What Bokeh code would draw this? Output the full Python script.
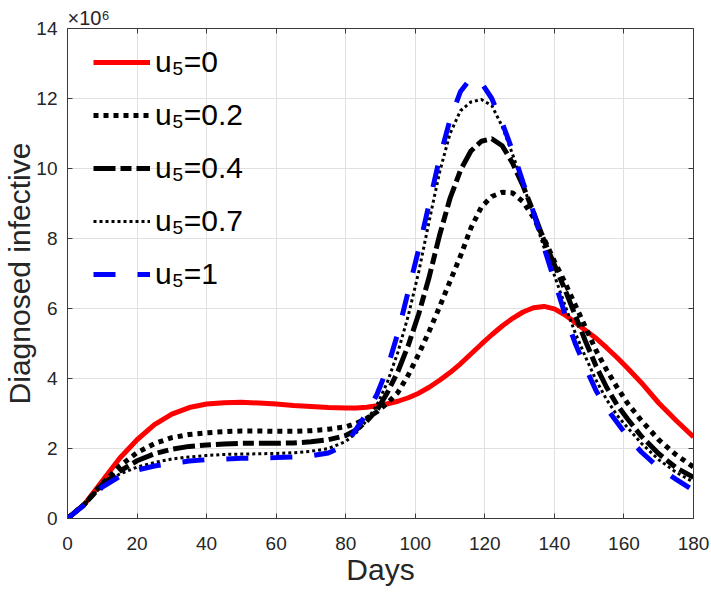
from bokeh.plotting import figure
from bokeh.models import (Range1d, FixedTicker, LinearAxis, Legend, LegendItem,
                          CustomJSTickFormatter)
from bokeh.embed import file_html
from bokeh.resources import INLINE

# ---------------- data (Diagnosed infective, in units of 10^6) ----------------
days = [0, 5, 10, 15, 20, 25, 30, 35, 40, 45, 50, 55, 60, 65, 70, 75, 80, 83, 86, 89,
        92, 95, 98, 101, 104, 107, 110, 113, 116, 119, 122, 125, 128, 131, 134, 137,
        140, 143, 146, 149, 152, 155, 158, 161, 165, 170, 175, 180]

u5_0 = [0, 0.42, 1.07, 1.72, 2.25, 2.68, 2.98, 3.17, 3.27, 3.31, 3.32, 3.30, 3.27, 3.23,
        3.20, 3.17, 3.16, 3.16, 3.18, 3.22, 3.28, 3.35, 3.45, 3.58, 3.75, 3.95, 4.17,
        4.42, 4.70, 4.98, 5.25, 5.50, 5.72, 5.90, 6.02, 6.06, 5.99, 5.82, 5.60, 5.37,
        5.15, 4.88, 4.60, 4.30, 3.88, 3.30, 2.80, 2.33]

u5_02 = [0, 0.42, 1.00, 1.50, 1.88, 2.14, 2.31, 2.40, 2.45, 2.48, 2.50, 2.50, 2.49, 2.49,
         2.51, 2.55, 2.62, 2.72, 2.86, 3.05, 3.30, 3.60, 4.10, 4.70, 5.35, 6.05, 6.78,
         7.50, 8.30, 8.90, 9.20, 9.32, 9.30, 9.05, 8.60, 8.00, 7.35, 6.75, 6.10, 5.45,
         4.80, 4.25, 3.75, 3.30, 2.80, 2.25, 1.82, 1.47]

u5_04 = [0, 0.42, 0.97, 1.35, 1.65, 1.85, 1.98, 2.06, 2.10, 2.13, 2.15, 2.15, 2.15, 2.16,
         2.19, 2.25, 2.37, 2.53, 2.78, 3.10, 3.60, 4.20, 4.95, 5.85, 6.90, 8.10, 9.15,
         9.95, 10.50, 10.78, 10.85, 10.65, 10.15, 9.50, 8.75, 7.95, 7.25, 6.55, 5.80,
         5.05, 4.35, 3.75, 3.25, 2.85, 2.35, 1.85, 1.45, 1.18]

u5_07 = [0, 0.42, 0.95, 1.27, 1.47, 1.60, 1.70, 1.76, 1.80, 1.83, 1.84, 1.85, 1.86, 1.88,
         1.92, 2.00, 2.20, 2.45, 2.80, 3.25, 3.90, 4.75, 5.80, 7.05, 8.50, 9.90, 11.00,
         11.65, 11.90, 11.97, 11.80, 11.20, 10.40, 9.55, 8.65, 7.75, 6.95, 6.10, 5.30,
         4.60, 3.95, 3.40, 2.95, 2.60, 2.15, 1.68, 1.32, 1.04]

u5_1 = [0, 0.40, 0.90, 1.20, 1.38, 1.50, 1.58, 1.64, 1.68, 1.70, 1.72, 1.73, 1.74, 1.76,
        1.79, 1.87, 2.10, 2.55, 3.00, 3.55, 4.30, 5.30, 6.50, 7.70, 9.00, 10.30, 11.40,
        12.20, 12.58, 12.45, 12.00, 11.30, 10.50, 9.60, 8.75, 7.75, 6.80, 5.85, 5.00,
        4.30, 3.65, 3.15, 2.75, 2.35, 1.90, 1.45, 1.12, 0.80]

series_labels = ["u\u2085=0", "u\u2085=0.2", "u\u2085=0.4", "u\u2085=0.7", "u\u2085=1"]
x_ticks = [0, 20, 40, 60, 80, 100, 120, 140, 160, 180]
y_ticks = [0, 2, 4, 6, 8, 10, 12, 14]
x_label = "Days"
y_label = "Diagnosed infective"
exponent_text = "\u00d710\u2076"

# ---------------- figure ----------------
FONT = "Liberation Sans"
AX = "#262626"

p = figure(width=711, height=592, output_backend="svg", toolbar_location=None,
           x_range=Range1d(0, 180), y_range=Range1d(0, 14),
           min_border_left=67, min_border_right=18, min_border_top=28,
           min_border_bottom=74)
p.outline_line_color = None
p.background_fill_color = "white"
p.border_fill_color = "white"

p.title.text = exponent_text
p.title.align = "left"
p.title.offset = 0
p.title.standoff = 0
p.title.text_font = FONT
p.title.text_font_size = "20px"
p.title.text_font_style = "normal"
p.title.text_color = AX


def style_axis(ax, ticks, show_labels):
    ax.ticker = FixedTicker(ticks=ticks)
    ax.axis_line_color = "#3a3a3a"
    ax.axis_line_width = 1
    ax.major_tick_line_color = "#3a3a3a"
    ax.major_tick_in = 5
    ax.major_tick_out = 0
    ax.minor_tick_line_color = None
    ax.major_label_text_font = FONT
    ax.major_label_text_font_size = "19px"
    ax.major_label_text_color = AX
    ax.axis_label_text_font = FONT
    ax.axis_label_text_font_style = "normal"
    ax.axis_label_text_color = AX
    if show_labels:
        ax.major_label_standoff = 10
    else:
        ax.major_label_standoff = 0
        ax.formatter = CustomJSTickFormatter(code="return ''")


xa = p.xaxis[0]
ya = p.yaxis[0]
style_axis(xa, x_ticks, True)
style_axis(ya, y_ticks, True)
xa.major_label_standoff = 18
xa.axis_label = x_label
xa.axis_label_text_font_size = "30px"
xa.axis_label_standoff = 0
ya.axis_label = y_label
ya.axis_label_text_font_size = "30px"
ya.axis_label_standoff = -3

top_ax = LinearAxis()
right_ax = LinearAxis()
style_axis(top_ax, x_ticks, False)
style_axis(right_ax, y_ticks, False)
p.add_layout(top_ax, "above")
p.add_layout(right_ax, "right")

p.xgrid[0].ticker = FixedTicker(ticks=x_ticks)
p.ygrid[0].ticker = FixedTicker(ticks=y_ticks)
p.xgrid.grid_line_color = "#e0e0e0"
p.ygrid.grid_line_color = "#e0e0e0"

# ---------------- curves ----------------
r0 = p.line(days, u5_0, line_color="#ff0000", line_width=5)
r1 = p.line(days, u5_02, line_color="black", line_width=5, line_dash="5 5")
r2 = p.line(days, u5_04, line_color="black", line_width=5, line_dash="22 5 11 5")
r3 = p.line(days, u5_07, line_color="black", line_width=3, line_dash="3 3")
r4 = p.line(days, u5_1, line_color="#0000ff", line_width=5, line_dash="22 22")

legend = Legend(items=[LegendItem(label=lab, renderers=[r])
                       for lab, r in zip(series_labels, [r0, r1, r2, r3, r4])],
                location=(26, 227))
legend.label_text_font = FONT
legend.label_text_font_size = "30px"
legend.label_text_color = "black"
legend.glyph_width = 57
legend.glyph_height = 34
legend.label_height = 34
legend.label_standoff = 5
legend.spacing = 19
legend.padding = 0
legend.margin = 0
legend.border_line_color = None
legend.background_fill_alpha = 0
p.add_layout(legend)

open("out.html", "w").write(file_html(p, INLINE))
